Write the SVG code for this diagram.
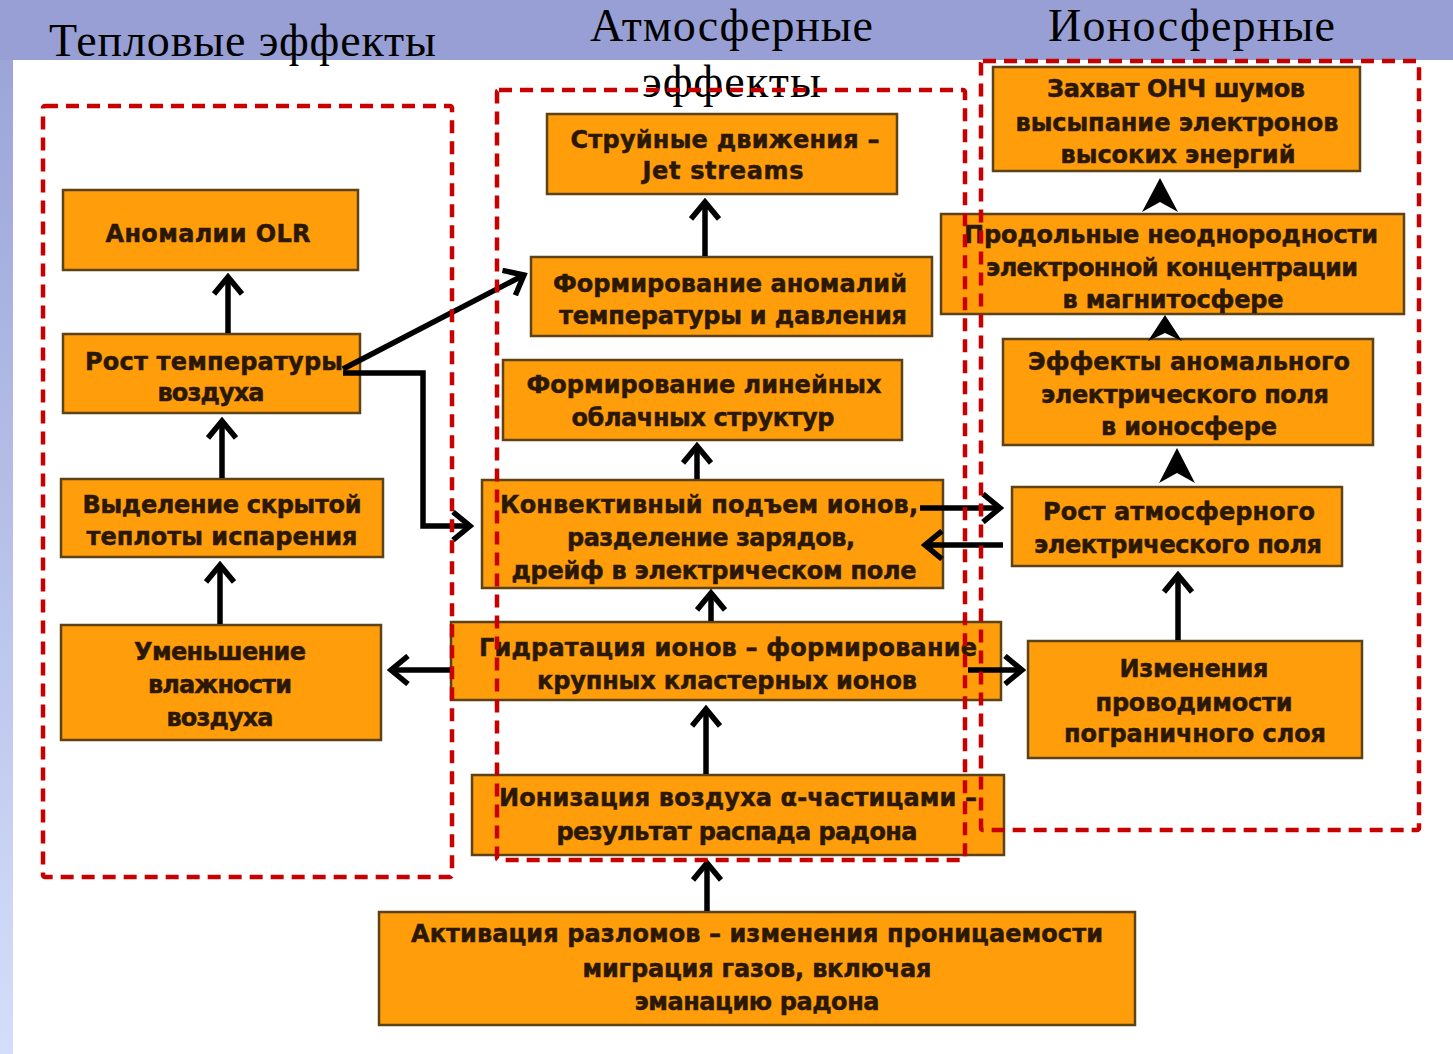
<svg xmlns="http://www.w3.org/2000/svg" width="1453" height="1054" viewBox="0 0 1453 1054">
<style>
.hdr{font-family:"Liberation Serif","Times New Roman",serif;font-size:46px;fill:#000}
.box{fill:#ff9e0a;stroke:#5c4214;stroke-width:2.5}
.t{font-family:"DejaVu Sans","Liberation Sans",sans-serif;font-weight:bold;font-size:24px;fill:#2a1804;stroke:#2a1804;stroke-width:0.5}
.c{fill:none;stroke:#000;stroke-width:5.5}
.dash{fill:none;stroke:#c80000;stroke-width:4.5;stroke-dasharray:13 8}
</style>
<defs>
<linearGradient id="strip" x1="0" y1="0" x2="0" y2="1">
<stop offset="0" stop-color="#9aa1d6"/>
<stop offset="1" stop-color="#d4defa"/>
</linearGradient>
<marker id="arr" viewBox="-22 -16 26 32" refX="0" refY="0" markerWidth="26" markerHeight="32" markerUnits="userSpaceOnUse" orient="auto">
<path d="M-17,-14 L0,0 L-17,14" fill="none" stroke="#000" stroke-width="5.5"/>
</marker>
</defs>
<rect x="0" y="0" width="1453" height="1054" fill="#ffffff"/>
<rect x="0" y="0" width="13" height="1054" fill="url(#strip)"/>
<rect x="0" y="0" width="1453" height="60" fill="#989fd4"/>
<text class="hdr" x="49" y="56" textLength="387">Тепловые эффекты</text>
<text class="hdr" x="590" y="41" textLength="283">Атмосферные</text>
<text class="hdr" x="642" y="97" textLength="179">эффекты</text>
<text class="hdr" x="1048" y="41" textLength="287">Ионосферные</text>

<g id="n1"><rect class="box" x="63" y="190" width="295" height="80"/><text class="t" x="208" y="242" text-anchor="middle" textLength="205">Аномалии OLR</text></g>
<g id="n2"><rect class="box" x="63" y="334" width="297" height="79"/><text class="t" x="214" y="370" text-anchor="middle" textLength="258">Рост температуры</text><text class="t" x="211" y="401" text-anchor="middle" textLength="107">воздуха</text></g>
<g id="n3"><rect class="box" x="61" y="479" width="322" height="78"/><text class="t" x="222" y="513" text-anchor="middle" textLength="279">Выделение скрытой</text><text class="t" x="222" y="545" text-anchor="middle" textLength="271">теплоты испарения</text></g>
<g id="n4"><rect class="box" x="61" y="625" width="320" height="115"/><text class="t" x="220" y="660" text-anchor="middle" textLength="172">Уменьшение</text><text class="t" x="220" y="693" text-anchor="middle" textLength="144">влажности</text><text class="t" x="220" y="726" text-anchor="middle" textLength="107">воздуха</text></g>

<g id="n5"><rect class="box" x="547" y="114" width="350" height="80"/><text class="t" x="725" y="148" text-anchor="middle" textLength="309">Струйные движения –</text><text class="t" x="723" y="179" text-anchor="middle" textLength="161">Jet streams</text></g>
<g id="n6"><rect class="box" x="531" y="257" width="401" height="79"/><text class="t" x="730" y="292" text-anchor="middle" textLength="354">Формирование аномалий</text><text class="t" x="733" y="324" text-anchor="middle" textLength="348">температуры и давления</text></g>
<g id="n7"><rect class="box" x="503" y="360" width="399" height="80"/><text class="t" x="704" y="393" text-anchor="middle" textLength="355">Формирование линейных</text><text class="t" x="703" y="426" text-anchor="middle" textLength="263">облачных структур</text></g>
<g id="n8"><rect class="box" x="482" y="480" width="461" height="108"/><text class="t" x="709" y="513" text-anchor="middle" textLength="418">Конвективный подъем ионов,</text><text class="t" x="711" y="546" text-anchor="middle" textLength="288">разделение зарядов,</text><text class="t" x="714" y="579" text-anchor="middle" textLength="405">дрейф в электрическом поле</text></g>
<g id="n9"><rect class="box" x="451" y="622" width="550" height="78"/><text class="t" x="728" y="656" text-anchor="middle" textLength="498">Гидратация ионов – формирование</text><text class="t" x="727" y="689" text-anchor="middle" textLength="380">крупных кластерных ионов</text></g>
<g id="n10"><rect class="box" x="472" y="775" width="532" height="80"/><text class="t" x="738" y="806" text-anchor="middle" textLength="478">Ионизация воздуха α-частицами –</text><text class="t" x="737" y="840" text-anchor="middle" textLength="361">результат распада радона</text></g>
<g id="n11"><rect class="box" x="379" y="912" width="756" height="113"/><text class="t" x="757" y="942" text-anchor="middle" textLength="692">Активация разломов – изменения проницаемости</text><text class="t" x="757" y="977" text-anchor="middle" textLength="349">миграция газов, включая</text><text class="t" x="757" y="1010" text-anchor="middle" textLength="245">эманацию радона</text></g>

<g id="n12"><rect class="box" x="993" y="67" width="367" height="104"/><text class="t" x="1176" y="97" text-anchor="middle" textLength="258">Захват ОНЧ шумов</text><text class="t" x="1177" y="131" text-anchor="middle" textLength="323">высыпание электронов</text><text class="t" x="1178" y="163" text-anchor="middle" textLength="235">высоких энергий</text></g>
<g id="n13"><rect class="box" x="941" y="214" width="463" height="100"/><text class="t" x="1171" y="243" text-anchor="middle" textLength="414">Продольные неоднородности</text><text class="t" x="1172" y="276" text-anchor="middle" textLength="372">электронной концентрации</text><text class="t" x="1173" y="308" text-anchor="middle" textLength="221">в магнитосфере</text></g>
<g id="n14"><rect class="box" x="1003" y="339" width="370" height="106"/><text class="t" x="1189" y="370" text-anchor="middle" textLength="322">Эффекты аномального</text><text class="t" x="1185" y="403" text-anchor="middle" textLength="288">электрического поля</text><text class="t" x="1189" y="435" text-anchor="middle" textLength="176">в ионосфере</text></g>
<g id="n15"><rect class="box" x="1012" y="487" width="330" height="79"/><text class="t" x="1179" y="520" text-anchor="middle" textLength="272">Рост атмосферного</text><text class="t" x="1178" y="553" text-anchor="middle" textLength="288">электрического поля</text></g>
<g id="n16"><rect class="box" x="1028" y="641" width="334" height="117"/><text class="t" x="1194" y="677" text-anchor="middle" textLength="149">Изменения</text><text class="t" x="1194" y="711" text-anchor="middle" textLength="197">проводимости</text><text class="t" x="1195" y="742" text-anchor="middle" textLength="262">пограничного слоя</text></g>

<g id="connectors">
<line class="c" x1="228" y1="333" x2="228" y2="277" marker-end="url(#arr)"/>
<line class="c" x1="222" y1="478" x2="222" y2="421" marker-end="url(#arr)"/>
<line class="c" x1="220" y1="624" x2="220" y2="565" marker-end="url(#arr)"/>
<line class="c" x1="450" y1="670" x2="391" y2="670" marker-end="url(#arr)"/>
<line class="c" x1="705" y1="256" x2="705" y2="202" marker-end="url(#arr)"/>
<line class="c" x1="697" y1="479" x2="697" y2="446" marker-end="url(#arr)"/>
<line class="c" x1="711" y1="621" x2="711" y2="593" marker-end="url(#arr)"/>
<line class="c" x1="706" y1="774" x2="706" y2="709" marker-end="url(#arr)"/>
<line class="c" x1="707" y1="911" x2="707" y2="863" marker-end="url(#arr)"/>
<line class="c" x1="343" y1="369" x2="524" y2="275" marker-end="url(#arr)"/>
<polyline class="c" points="343,373 423,373 423,526 470,526" marker-end="url(#arr)"/>
<line class="c" x1="920" y1="508" x2="1000" y2="508" marker-end="url(#arr)"/>
<line class="c" x1="1003" y1="545" x2="925" y2="545" marker-end="url(#arr)"/>
<line class="c" x1="968" y1="670" x2="1022" y2="670" marker-end="url(#arr)"/>
<line class="c" x1="1178" y1="640" x2="1178" y2="575" marker-end="url(#arr)"/>
<polygon points="1160,178 1178,212 1160,202 1142,212" fill="#000"/>
<polygon points="1165,315 1182,341 1165,333 1148,341" fill="#000"/>
<polygon points="1177,448 1195,483 1177,473 1159,483" fill="#000"/>
</g>

<g id="groups">
<rect class="dash" x="43" y="106" width="409" height="771" rx="2"/>
<rect class="dash" x="497" y="90" width="468" height="770" rx="2"/>
<rect class="dash" x="981" y="61" width="438" height="769" rx="2"/>
</g>
</svg>
